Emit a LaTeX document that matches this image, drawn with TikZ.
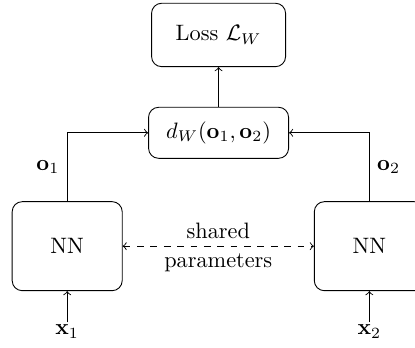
\documentclass[tikz,border=0pt]{standalone}
\usepackage{amsmath}
\begin{document}
\begin{tikzpicture}[box/.style={draw, rounded corners=4.5pt, inner sep=2pt}]
\useasboundingbox (0,0) rectangle (6.541,5.469);
\node[box, minimum width=2.112cm, minimum height=0.999cm] (loss) at (3.445,4.918) {Loss $\mathcal{L}_W$};
\node[box, minimum width=2.207cm, minimum height=0.804cm] (dw) at (3.445,3.376) {$d_W(\mathbf{o}_1,\mathbf{o}_2)$};
\node[box, minimum width=1.734cm, minimum height=1.403cm] (nn1) at (1.059,1.589) {NN};
\node[box, minimum width=1.734cm, minimum height=1.403cm] (nn2) at (5.821,1.589) {NN};
\node[inner sep=1pt] (x1) at (1.059,0.243) {$\mathbf{x}_1$};
\node[inner sep=1pt] (x2) at (5.821,0.243) {$\mathbf{x}_2$};
\draw[->] (x1)--(nn1);
\draw[->] (x2)--(nn2);
\draw[->] (nn1.north) |- node[pos=.25,left]{$\mathbf{o}_1$} (dw.west);
\draw[->] (nn2.north) |- node[pos=.25,right]{$\mathbf{o}_2$} (dw.east);
\draw[->] (dw)--(loss);
\draw[<->,dashed] (nn1)--(nn2) node[midway,above]{shared} node[midway,below]{parameters};
\end{tikzpicture}
\end{document}
